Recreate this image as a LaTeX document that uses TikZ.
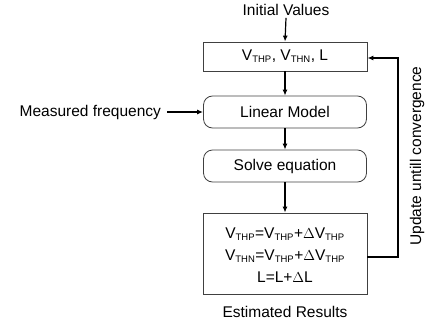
\documentclass[tikz,border=0pt]{standalone}
\usepackage{fontspec}
\setmainfont{Liberation Sans}
\usetikzlibrary{arrows.meta}
\newcommand{\sbs}[1]{\textsubscript{\fontsize{9.5}{10}\selectfont #1}}
\begin{document}
\begin{tikzpicture}[x=1pt,y=-1pt,
  every node/.style={font=\fontsize{15.5}{18}\selectfont, inner sep=2pt},
  sqbox/.style={draw=black!75, line width=0.8pt, minimum width=164pt, align=center},
  rbox/.style={draw=black!75, line width=0.8pt, rounded corners=9pt, minimum width=163pt, minimum height=32pt},
  arr/.style={-{Latex[length=6pt,width=5pt]}, line width=1.2pt}]
\useasboundingbox (0,0) rectangle (427,326);
\node (init) at (286,10) {Initial Values};
\node[sqbox, minimum height=29pt] (b1) at (285,56.5) {V\sbs{THP}, V\sbs{THN}, L};
\node[rbox] (lm) at (285,112) {Linear Model};
\node[rbox] (se) at (285,166) {Solve equation};
\node[sqbox, minimum height=81pt] (res) at (285,253.5) {};
\node (l1) at (285,234) {V\sbs{THP}=V\sbs{THP}+$\Delta$V\sbs{THP}};
\node (l2) at (285,256) {V\sbs{THN}=V\sbs{THP}+$\Delta$V\sbs{THP}};
\node (l3) at (285,277) {L=L+$\Delta$L};
\node (est) at (285,312) {Estimated Results};
\node[anchor=east, outer sep=4pt] (mf) at (167,112) {Measured frequency};
\node[rotate=90] (upd) at (417,156) {Update untill convergence};
\coordinate (c1) at (398,257);
\coordinate (c2) at (398,58);
\draw[arr] (init.south) -- (b1.north);
\draw[arr] (b1.south) -- (lm.north);
\draw[arr] (lm.south) -- (se.north);
\draw[arr] (se.south) -- (res.north);
\draw[arr] (mf.east) -- (lm.west);
\draw[arr] (res.east |- c1) -- (c1) -- (c2) -- (b1.east |- c2);
\end{tikzpicture}
\end{document}
